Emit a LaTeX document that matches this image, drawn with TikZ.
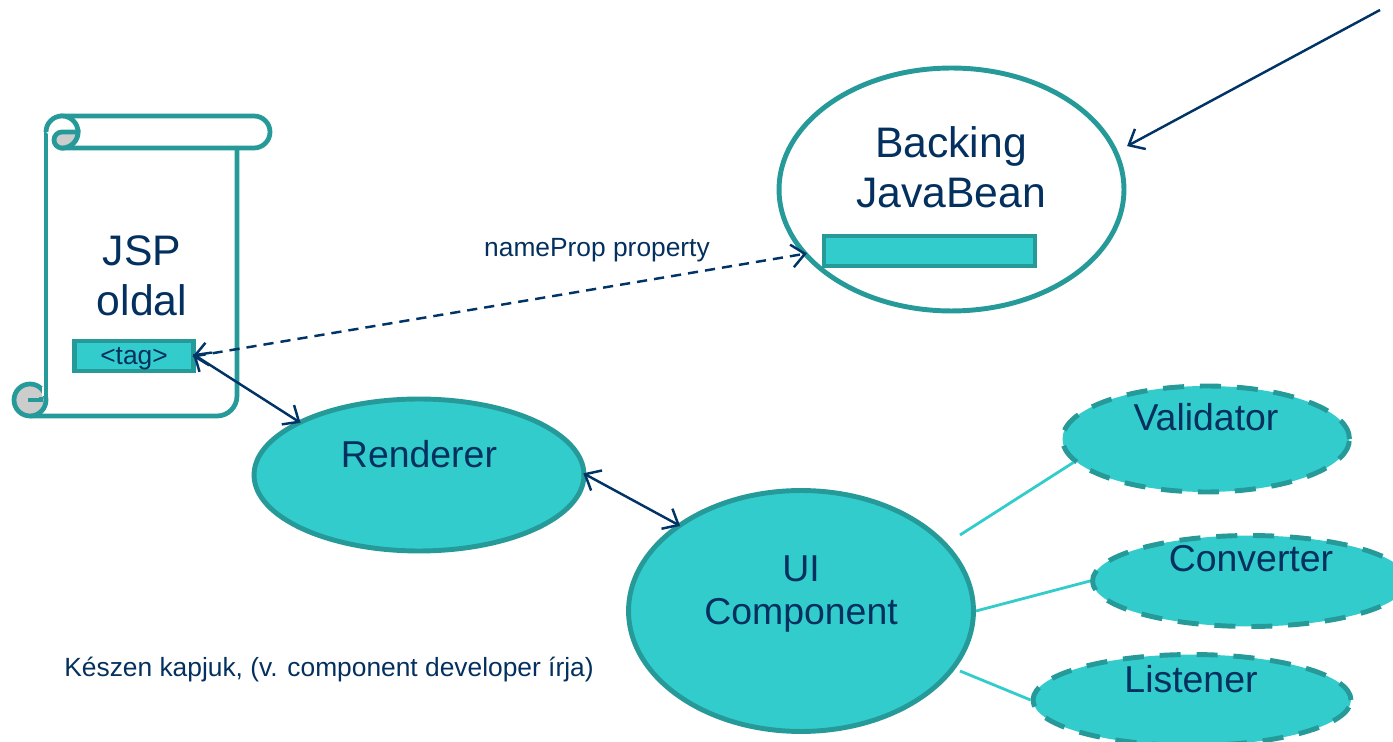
\documentclass[tikz,border=0pt]{standalone}
\usepackage{fontspec}
\setmainfont{Liberation Sans}
\usetikzlibrary{arrows.meta, shapes.geometric}
\definecolor{tealline}{HTML}{269999}
\definecolor{tealfill}{HTML}{33CCCC}
\definecolor{navytext}{HTML}{03305E}
\definecolor{navyline}{HTML}{003366}
\definecolor{curlgray}{HTML}{CCCCCC}

\begin{document}
\begin{tikzpicture}[x=0.02cm, y=-0.02cm,
    bubble/.style={ellipse, draw=tealline, fill=tealfill, line width=2.8pt, inner sep=0pt},
    whitebubble/.style={bubble, fill=white},
    dashbubble/.style={bubble, dash pattern=on 12pt off 9pt},
    bar/.style={rectangle, draw=tealline, fill=tealfill, line width=2.8pt, inner sep=0pt},
    big/.style={text=navytext, align=center, font=\fontsize{24.3}{28.4}\selectfont},
    mid/.style={text=navytext, align=center, font=\fontsize{21.3}{25}\selectfont},
    small/.style={text=navytext, font=\fontsize{15}{18}\selectfont},
    scroll/.style={draw=tealline, line width=2.7pt},
    link/.style={navyline, line width=1.4pt, shorten >=-2pt, shorten <=-2pt, {Straight Barb[length=7.5pt,width=13pt]}-{Straight Barb[length=7.5pt,width=13pt]}},
    spoke/.style={tealfill, line width=1.6pt}]
  \useasboundingbox (0,0) rectangle (1393,742);

  \fill [white] (46,132) rectangle (237,416);
  \draw [scroll, line join=round] (46,132) -- (46,400);
  \draw [scroll] (30,416) -- (217,416) arc (90:0:20) -- (237,148);
  \draw [scroll, fill=white] (62,116) -- (254,116) arc (-90:90:16) -- (62,148) -- cycle;
  \draw [scroll, fill=white] (46,132) arc (180:450:16);
  \draw [scroll, fill=curlgray] (62,148) arc (90:270:8) -- (78,132) arc (0:90:16) -- cycle;
  \draw [scroll, fill=curlgray] (30,400) circle (16);
  \fill [white] (41.5,387) rectangle (44,396);
  \draw [tealline, line width=2pt] (28,400) -- (41,400) -- (41,397);

  \node (jsptext) [big] at (142,276) {JSP\\oldal};
  \node (tag) [bar, minimum width=2.38cm, minimum height=0.6cm] at (134,356) {};
  \node (tagtext) [small] at (134,359) {<tag>};

  \node (backing) [whitebubble, minimum width=6.9cm, minimum height=4.86cm] at (951.5,189.5) {};
  \node (backingtext) [big] at (951,167) {Backing\\JavaBean};
  \node (prop) [bar, minimum width=4.22cm, minimum height=0.6cm] at (929.5,251) {};
  \node (propname) [small] at (597,250) {nameProp property};

  \node (renderer) [bubble, minimum width=6.6cm, minimum height=3.04cm] at (419,475) {};
  \node (renderertext) [mid] at (419,454) {Renderer};

  \node (ui) [bubble, minimum width=6.9cm, minimum height=4.82cm] at (801,611) {};
  \node (uitext) [mid] at (801,594) {UI\\Component};

  \node (validator) [dashbubble, minimum width=5.74cm, minimum height=2.12cm] at (1206,439) {};
  \node (validatortext) [mid] at (1206,417) {Validator};
  \node (converter) [dashbubble, minimum width=6.3cm, minimum height=1.82cm] at (1250,581) {};
  \node (convertertext) [mid] at (1251,559) {Converter};
  \node (listener) [dashbubble, minimum width=6.36cm, minimum height=1.82cm] at (1192,700) {};
  \node (listenertext) [mid] at (1191,679) {Listener};

  \node (ready) [small] at (329,670) {Készen kapjuk, (v. component developer írja)};

  \coordinate (topend) at (1380,10);
  \coordinate (spokea) at (960,535);
  \coordinate (spokec) at (960,671);

  \path [spoke]
    (spokea) edge (validator.190)
    (ui.east) edge (converter.west)
    (spokec) edge (listener.west);

  \path [link]
    (tag.east) edge (renderer.156)
    (renderer.east) edge (ui.145);
  \path [link, dash pattern=on 5.8pt off 4pt]
    (tag.east) edge [shorten >=8.5pt] (prop.west);
  \path [navyline, line width=1.4pt, -{Straight Barb[length=7.5pt,width=13pt]}]
    (topend) edge [shorten >=6pt] (backing.13);
\end{tikzpicture}
\end{document}
